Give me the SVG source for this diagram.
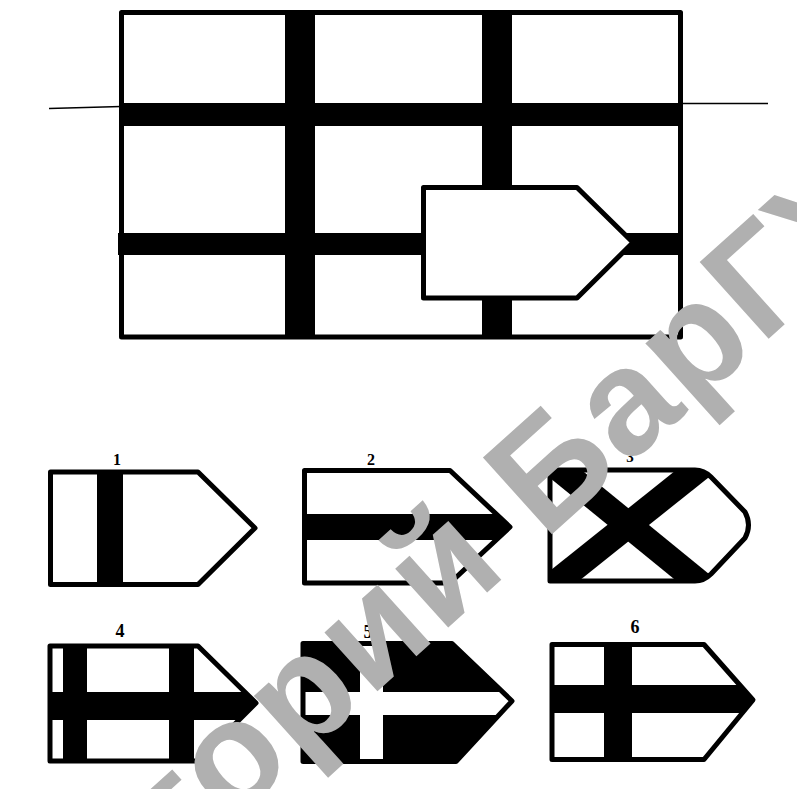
<svg xmlns="http://www.w3.org/2000/svg" width="797" height="789" viewBox="0 0 797 789">
<style>
.bg{fill:#fff}
.ol{fill:none;stroke:#000;stroke-width:5;stroke-linejoin:round}
.wf{fill:#fff;stroke:none}
.bk{fill:#000}
.wh{fill:#fff}
.thin{stroke:#000;stroke-width:1.5;fill:none}
.lbl{font-family:"Liberation Serif","Times New Roman",serif;font-weight:bold;fill:#000;text-anchor:middle}
.wm{font-family:"Liberation Sans",Arial,sans-serif;font-weight:bold;font-size:150px;letter-spacing:3px;fill:#b0b0b0}
</style>
<defs>
<path id="f1" d="M50.5,472 H198 L255,528 L198,584.5 H50.5 Z"/>
<path id="f2" d="M304.5,470.5 H450 L510,527 L450,583 H304.5 Z"/>
<path id="f3" d="M550,470 H695 Q704,470 711,477 L745,512 Q752,525 745,538 L711,574 Q704,581 695,581 H550 Z"/>
<path id="f4" d="M50,646 H198 L256,703 L198,761 H50 Z"/>
<path id="f5" d="M303,643.5 H452 L512,701 L456,761.5 H303 Z"/>
<path id="f6" d="M552,644.5 H704 L753,700 L704,759.5 H552 Z"/>
<clipPath id="c1"><use href="#f1"/></clipPath>
<clipPath id="c2"><use href="#f2"/></clipPath>
<clipPath id="c3"><use href="#f3"/></clipPath>
<clipPath id="c4"><use href="#f4"/></clipPath>
<clipPath id="c5"><use href="#f5"/></clipPath>
<clipPath id="c6"><use href="#f6"/></clipPath>
</defs>
<rect class="bg" x="0" y="0" width="797" height="789"/>

<g id="main-plan">
<rect class="bk" x="285" y="12" width="30" height="326"/>
<rect class="bk" x="482" y="12" width="30" height="326"/>
<rect class="bk" x="121" y="103" width="560" height="23"/>
<rect class="bk" x="118" y="233" width="563" height="22"/>
<rect class="ol" x="121.5" y="12.5" width="559" height="324.5"/>
<path class="wf" d="M423.5,187.5 H577 L633,242.5 L577,298 H423.5 Z"/>
<path class="ol" d="M423.5,187.5 H577 L633,242.5 L577,298 H423.5 Z"/>
</g>

<g id="connectors">
<line class="thin" x1="49" y1="108.5" x2="121" y2="106.5"/>
<line class="thin" x1="681" y1="103.5" x2="768" y2="103.5"/>
</g>

<g id="flag-1">
<use href="#f1" class="wf"/>
<rect class="bk" x="97" y="465" width="26" height="125" clip-path="url(#c1)"/>
<use href="#f1" class="ol"/>
<text class="lbl" x="117" y="465" font-size="16">1</text>
</g>

<g id="flag-2">
<use href="#f2" class="wf"/>
<rect class="bk" x="300" y="514" width="215" height="26" clip-path="url(#c2)"/>
<use href="#f2" class="ol"/>
<text class="lbl" x="371" y="465" font-size="16">2</text>
</g>

<g id="flag-3">
<use href="#f3" class="wf"/>
<g clip-path="url(#c3)">
<line x1="556" y1="466" x2="702" y2="585" stroke="#000" stroke-width="26"/>
<line x1="553" y1="585" x2="702" y2="466" stroke="#000" stroke-width="26"/>
</g>
<use href="#f3" class="ol"/>
<text class="lbl" x="630" y="462" font-size="15">3</text>
</g>

<g id="flag-4">
<use href="#f4" class="wf"/>
<g clip-path="url(#c4)">
<rect class="bk" x="63" y="640" width="24" height="125"/>
<rect class="bk" x="169" y="640" width="25" height="125"/>
<rect class="bk" x="45" y="692" width="215" height="28"/>
</g>
<use href="#f4" class="ol"/>
<text class="lbl" x="120" y="637" font-size="18">4</text>
</g>

<g id="flag-5">
<use href="#f5" class="bk"/>
<g clip-path="url(#c5)">
<rect class="wh" x="360" y="640" width="23" height="125"/>
<rect class="wh" x="300" y="692" width="215" height="23"/>
</g>
<use href="#f5" class="ol"/>
<text class="lbl" x="368" y="638" font-size="18">5</text>
</g>

<g id="flag-6">
<use href="#f6" class="wf"/>
<g clip-path="url(#c6)">
<rect class="bk" x="604" y="638" width="28" height="125"/>
<rect class="bk" x="548" y="685" width="210" height="28"/>
</g>
<use href="#f6" class="ol"/>
<text class="lbl" x="635" y="633" font-size="18">6</text>
</g>

<text class="wm" transform="translate(14,-4) rotate(-4,200,770) translate(-277,1211) rotate(-38)">Репозиторий БарГУ</text>
</svg>
